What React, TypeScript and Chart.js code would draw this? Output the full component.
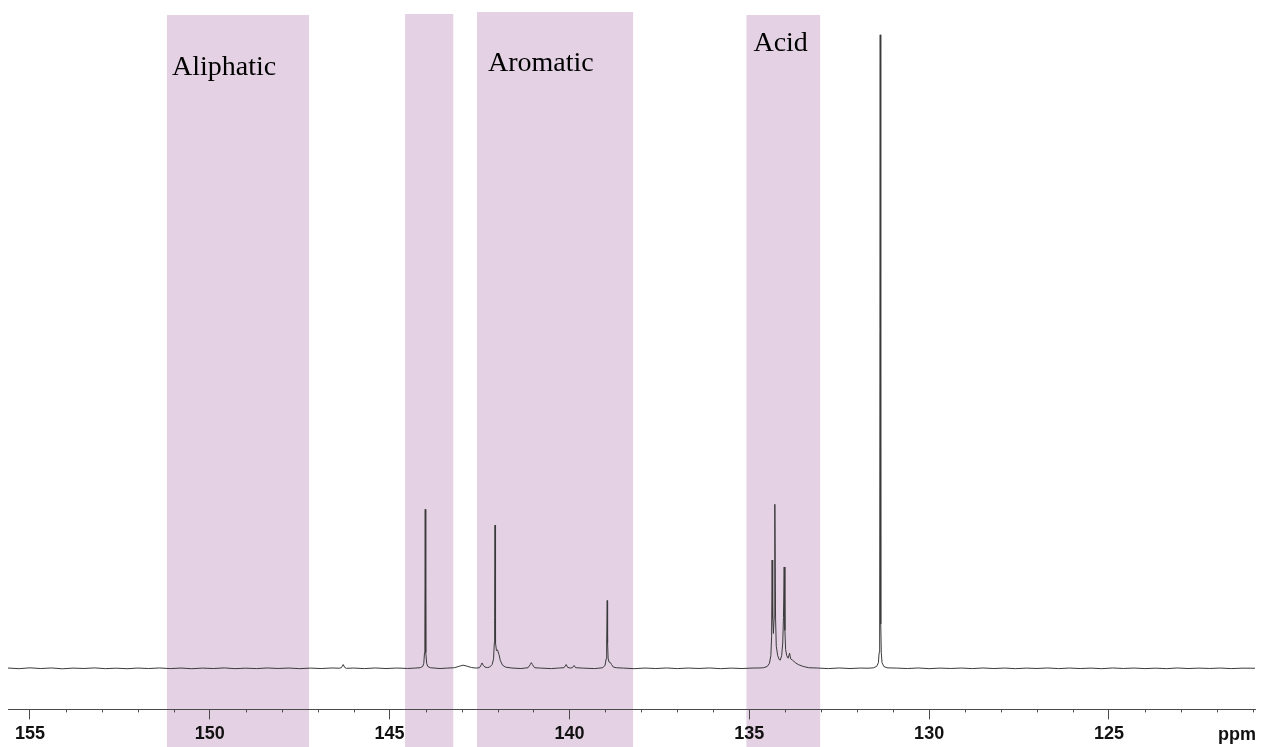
import React, { useEffect, useRef } from "react";
import { Chart, registerables } from "chart.js";

Chart.register(...registerables);

// ---- Axis ----
const xMinPpm = 120.94;
const xMaxPpm = 155.61;
const xTickValues = [155, 150, 145, 140, 135, 130, 125];
const xUnitLabel = "ppm";

// ---- Shaded regions (ppm) ----
const bandStarts = [151.19, 144.57, 142.57, 135.08];
const bandEnds = [147.24, 143.23, 138.23, 133.03];
const bandLabels = ["Aliphatic", "", "Aromatic", "Acid"];

// ---- Spectrum pieces [ppm, intensity] (largest peak = 100) ----
const baselineLeft: [number, number][] = [
  [155.61, 0.05], [155.3, -0.05], [155.0, 0.08], [154.7, -0.03], [154.4, 0.06],
  [154.1, -0.07], [153.8, 0.04], [153.5, -0.02], [153.2, 0.07], [152.9, -0.05],
  [152.6, 0.03], [152.3, -0.06], [152.0, 0.05], [151.7, -0.03], [151.4, 0.06],
  [151.1, -0.04], [150.8, 0.05], [150.5, -0.06], [150.2, 0.04], [149.9, -0.03],
  [149.6, 0.07], [149.3, -0.05], [149.0, 0.03], [148.7, -0.04], [148.4, 0.06],
  [148.1, -0.02], [147.8, 0.05], [147.5, -0.05], [147.2, 0.04], [146.9, -0.03],
  [146.6, 0.06], [146.4, 0.02],
];
const peak146: [number, number][] = [
  [146.34, 0.1], [146.29, 0.6], [146.25, 0.15], [146.2, 0.0],
];
const baselineMid1: [number, number][] = [
  [146.0, 0.05], [145.7, -0.04], [145.4, 0.06], [145.1, -0.03], [144.8, 0.05],
  [144.5, -0.02], [144.3, 0.04],
];
const peak144: [number, number][] = [
  [144.15, 0.1], [144.08, 0.3], [144.05, 0.8], [144.03, 2.5], [144.02, 6],
  [144.01, 25.1], [144.0, 6], [143.99, 2.5], [143.97, 0.8], [143.94, 0.3],
  [143.87, 0.1], [143.6, -0.03], [143.4, 0.04],
];
const bump143: [number, number][] = [
  [143.2, 0.1], [143.05, 0.35], [142.96, 0.5], [142.85, 0.35], [142.72, 0.12],
  [142.6, 0.05],
];
const peak1424: [number, number][] = [
  [142.5, 0.1], [142.45, 0.6], [142.43, 0.85], [142.4, 0.5], [142.35, 0.2],
  [142.28, 0.12],
];
const peak142: [number, number][] = [
  [142.22, 0.2], [142.15, 0.6], [142.11, 1.5], [142.09, 4], [142.08, 8],
  [142.07, 22.6], [142.06, 8], [142.05, 4], [142.03, 2.8], [142.0, 2.9],
  [141.96, 2.2], [141.92, 1.2], [141.86, 0.5], [141.78, 0.2], [141.6, 0.05],
  [141.35, -0.03],
];
const peak141: [number, number][] = [
  [141.15, 0.1], [141.09, 0.6], [141.06, 0.9], [141.03, 0.6], [140.97, 0.1],
  [140.8, 0.04], [140.5, -0.04], [140.3, 0.05],
];
const peak140: [number, number][] = [
  [140.15, 0.1], [140.09, 0.6], [140.05, 0.15], [139.98, 0.05],
  [139.92, 0.1], [139.87, 0.45], [139.83, 0.1], [139.6, 0.03], [139.3, -0.04],
  [139.15, 0.05],
];
const peak139: [number, number][] = [
  [139.07, 0.1], [139.01, 0.5], [138.98, 1.5], [138.965, 4], [138.95, 10.7],
  [138.94, 4], [138.925, 1.6], [138.9, 1.0], [138.86, 0.9], [138.83, 0.6],
  [138.78, 0.2], [138.7, 0.1],
];
const baselineMid2: [number, number][] = [
  [138.5, 0.04], [138.2, -0.05], [137.9, 0.05], [137.6, -0.03], [137.3, 0.06],
  [137.0, -0.04], [136.7, 0.05], [136.4, -0.02], [136.1, 0.06], [135.8, -0.05],
  [135.5, 0.04], [135.2, -0.03], [134.9, 0.05], [134.7, 0.06],
];
const acidCluster: [number, number][] = [
  [134.6, 0.1], [134.5, 0.3], [134.44, 0.8], [134.4, 2], [134.38, 5],
  [134.365, 17.1], [134.35, 8], [134.33, 5.5], [134.31, 8], [134.29, 25.9],
  [134.27, 8], [134.25, 3.5], [134.21, 2], [134.17, 1.4], [134.14, 1.3],
  [134.1, 2], [134.07, 4], [134.05, 8], [134.03, 16.0], [134.01, 6],
  [133.99, 3], [133.96, 2], [133.92, 1.6], [133.88, 2.4], [133.85, 1.5],
  [133.8, 1.3], [133.72, 0.9], [133.64, 0.6], [133.5, 0.3], [133.35, 0.1],
];
const baselineMid3: [number, number][] = [
  [133.1, 0.05], [132.8, -0.04], [132.5, 0.06], [132.2, -0.03], [131.9, 0.05],
  [131.7, 0.02],
];
const peak131: [number, number][] = [
  [131.55, 0.08], [131.46, 0.3], [131.41, 0.9], [131.39, 2.5], [131.375, 7],
  [131.36, 100], [131.345, 7], [131.33, 2.5], [131.31, 0.9], [131.26, 0.3],
  [131.17, 0.08],
];
const baselineRight: [number, number][] = [
  [130.9, 0.04], [130.6, -0.03], [130.3, 0.06], [130.0, -0.05], [129.7, 0.04],
  [129.4, -0.02], [129.1, 0.05], [128.8, -0.04], [128.5, 0.06], [128.2, -0.03],
  [127.9, 0.05], [127.6, -0.05], [127.3, 0.04], [127.0, -0.02], [126.7, 0.06],
  [126.4, -0.04], [126.1, 0.05], [125.8, -0.03], [125.5, 0.04], [125.2, -0.05],
  [124.9, 0.06], [124.6, -0.02], [124.3, 0.05], [124.0, -0.04], [123.7, 0.03],
  [123.4, -0.05], [123.1, 0.06], [122.8, -0.03], [122.5, 0.04], [122.2, -0.02],
  [121.9, 0.05], [121.6, -0.04], [121.3, 0.03], [120.94, 0.02],
];

// ---- Styles ----
const BAND_COLOR = "#e4d2e4";
const BAND_TOPS_PX = [15, 14, 12, 15];
const LABEL_OFFSETS_PX: [number, number][] = [
  [5, 75], [0, 0], [11, 71], [7, 51],
];
const LINE_COLOR = "#3a3a3a";
const AXIS_COLOR = "#4a4a4a";

const spectrum = [
  ...baselineLeft, ...peak146, ...baselineMid1, ...peak144, ...bump143,
  ...peak1424, ...peak142, ...peak141, ...peak140, ...peak139, ...baselineMid2,
  ...acidCluster, ...baselineMid3, ...peak131, ...baselineRight,
].sort((a, b) => b[0] - a[0]);

const bandsPlugin = {
  id: "bands",
  beforeDraw(chart: any) {
    const { ctx } = chart;
    const xs = chart.scales.x;
    ctx.save();
    ctx.fillStyle = BAND_COLOR;
    bandStarts.forEach((s, i) => {
      const x1 = xs.getPixelForValue(s);
      const x2 = xs.getPixelForValue(bandEnds[i]);
      const top = BAND_TOPS_PX[i];
      ctx.fillRect(Math.min(x1, x2), top, Math.abs(x2 - x1), chart.height - top);
    });
    ctx.restore();
  },
  afterDraw(chart: any) {
    const { ctx } = chart;
    const xs = chart.scales.x;
    const yAxis = chart.chartArea.bottom;
    ctx.save();
    // minor ticks
    ctx.strokeStyle = AXIS_COLOR;
    ctx.lineWidth = 1;
    for (let v = Math.ceil(xMinPpm); v <= Math.floor(xMaxPpm); v++) {
      if (v % 5 === 0) continue;
      const px = Math.round(xs.getPixelForValue(v)) + 0.5;
      ctx.beginPath();
      ctx.moveTo(px, yAxis);
      ctx.lineTo(px, yAxis + 3);
      ctx.stroke();
    }
    // unit label
    ctx.fillStyle = "#111";
    ctx.font = 'bold 18px "Liberation Sans", Arial, sans-serif';
    ctx.textAlign = "right";
    ctx.textBaseline = "alphabetic";
    ctx.fillText(xUnitLabel, chart.chartArea.right + 1, yAxis + 31);
    // band labels
    ctx.fillStyle = "#000";
    ctx.font = '28px "Liberation Serif", "Times New Roman", serif';
    ctx.textAlign = "left";
    bandLabels.forEach((lab, i) => {
      if (!lab) return;
      const x1 = Math.min(xs.getPixelForValue(bandStarts[i]), xs.getPixelForValue(bandEnds[i]));
      const [dx, by] = LABEL_OFFSETS_PX[i];
      ctx.fillText(lab, x1 + dx, by);
    });
    ctx.restore();
  },
};

export default function App() {
  const ref = useRef<HTMLCanvasElement | null>(null);
  useEffect(() => {
    if (!ref.current) return;
    const chart = new Chart(ref.current, {
      type: "line",
      data: {
        datasets: [
          {
            data: spectrum.map(([x, y]) => ({ x, y })),
            borderColor: LINE_COLOR,
            borderWidth: 1,
            pointRadius: 0,
            tension: 0,
            fill: false,
          },
        ],
      },
      options: {
        animation: false,
        responsive: false,
        devicePixelRatio: 1,
        events: [],
        layout: { padding: { left: 8, right: 6, top: 0, bottom: -2 } },
        plugins: { legend: { display: false }, tooltip: { enabled: false } },
        scales: {
          x: {
            type: "linear",
            reverse: true,
            min: xMinPpm,
            max: xMaxPpm,
            afterBuildTicks: (s: any) => {
              s.ticks = xTickValues.map((v) => ({ value: v }));
            },
            ticks: {
              autoSkip: false,
              maxRotation: 0,
              padding: 4,
              color: "#111",
              font: { family: '"Liberation Sans", Arial, sans-serif', size: 18, weight: "bold" },
              callback: (v: any) => String(v),
            },
            grid: {
              drawOnChartArea: false,
              drawTicks: true,
              tickLength: 10,
              color: AXIS_COLOR,
              tickWidth: 1,
            },
            border: { display: true, color: AXIS_COLOR, width: 1 },
          },
          y: { display: false, min: -6.48, max: 105.5 },
        },
      },
      plugins: [bandsPlugin],
    } as any);
    return () => chart.destroy();
  }, []);
  return (
    <div style={{ position: "fixed", left: 0, top: 0, width: 1261, height: 747, background: "#fff" }}>
      <canvas ref={ref} width={1261} height={747} />
    </div>
  );
}
